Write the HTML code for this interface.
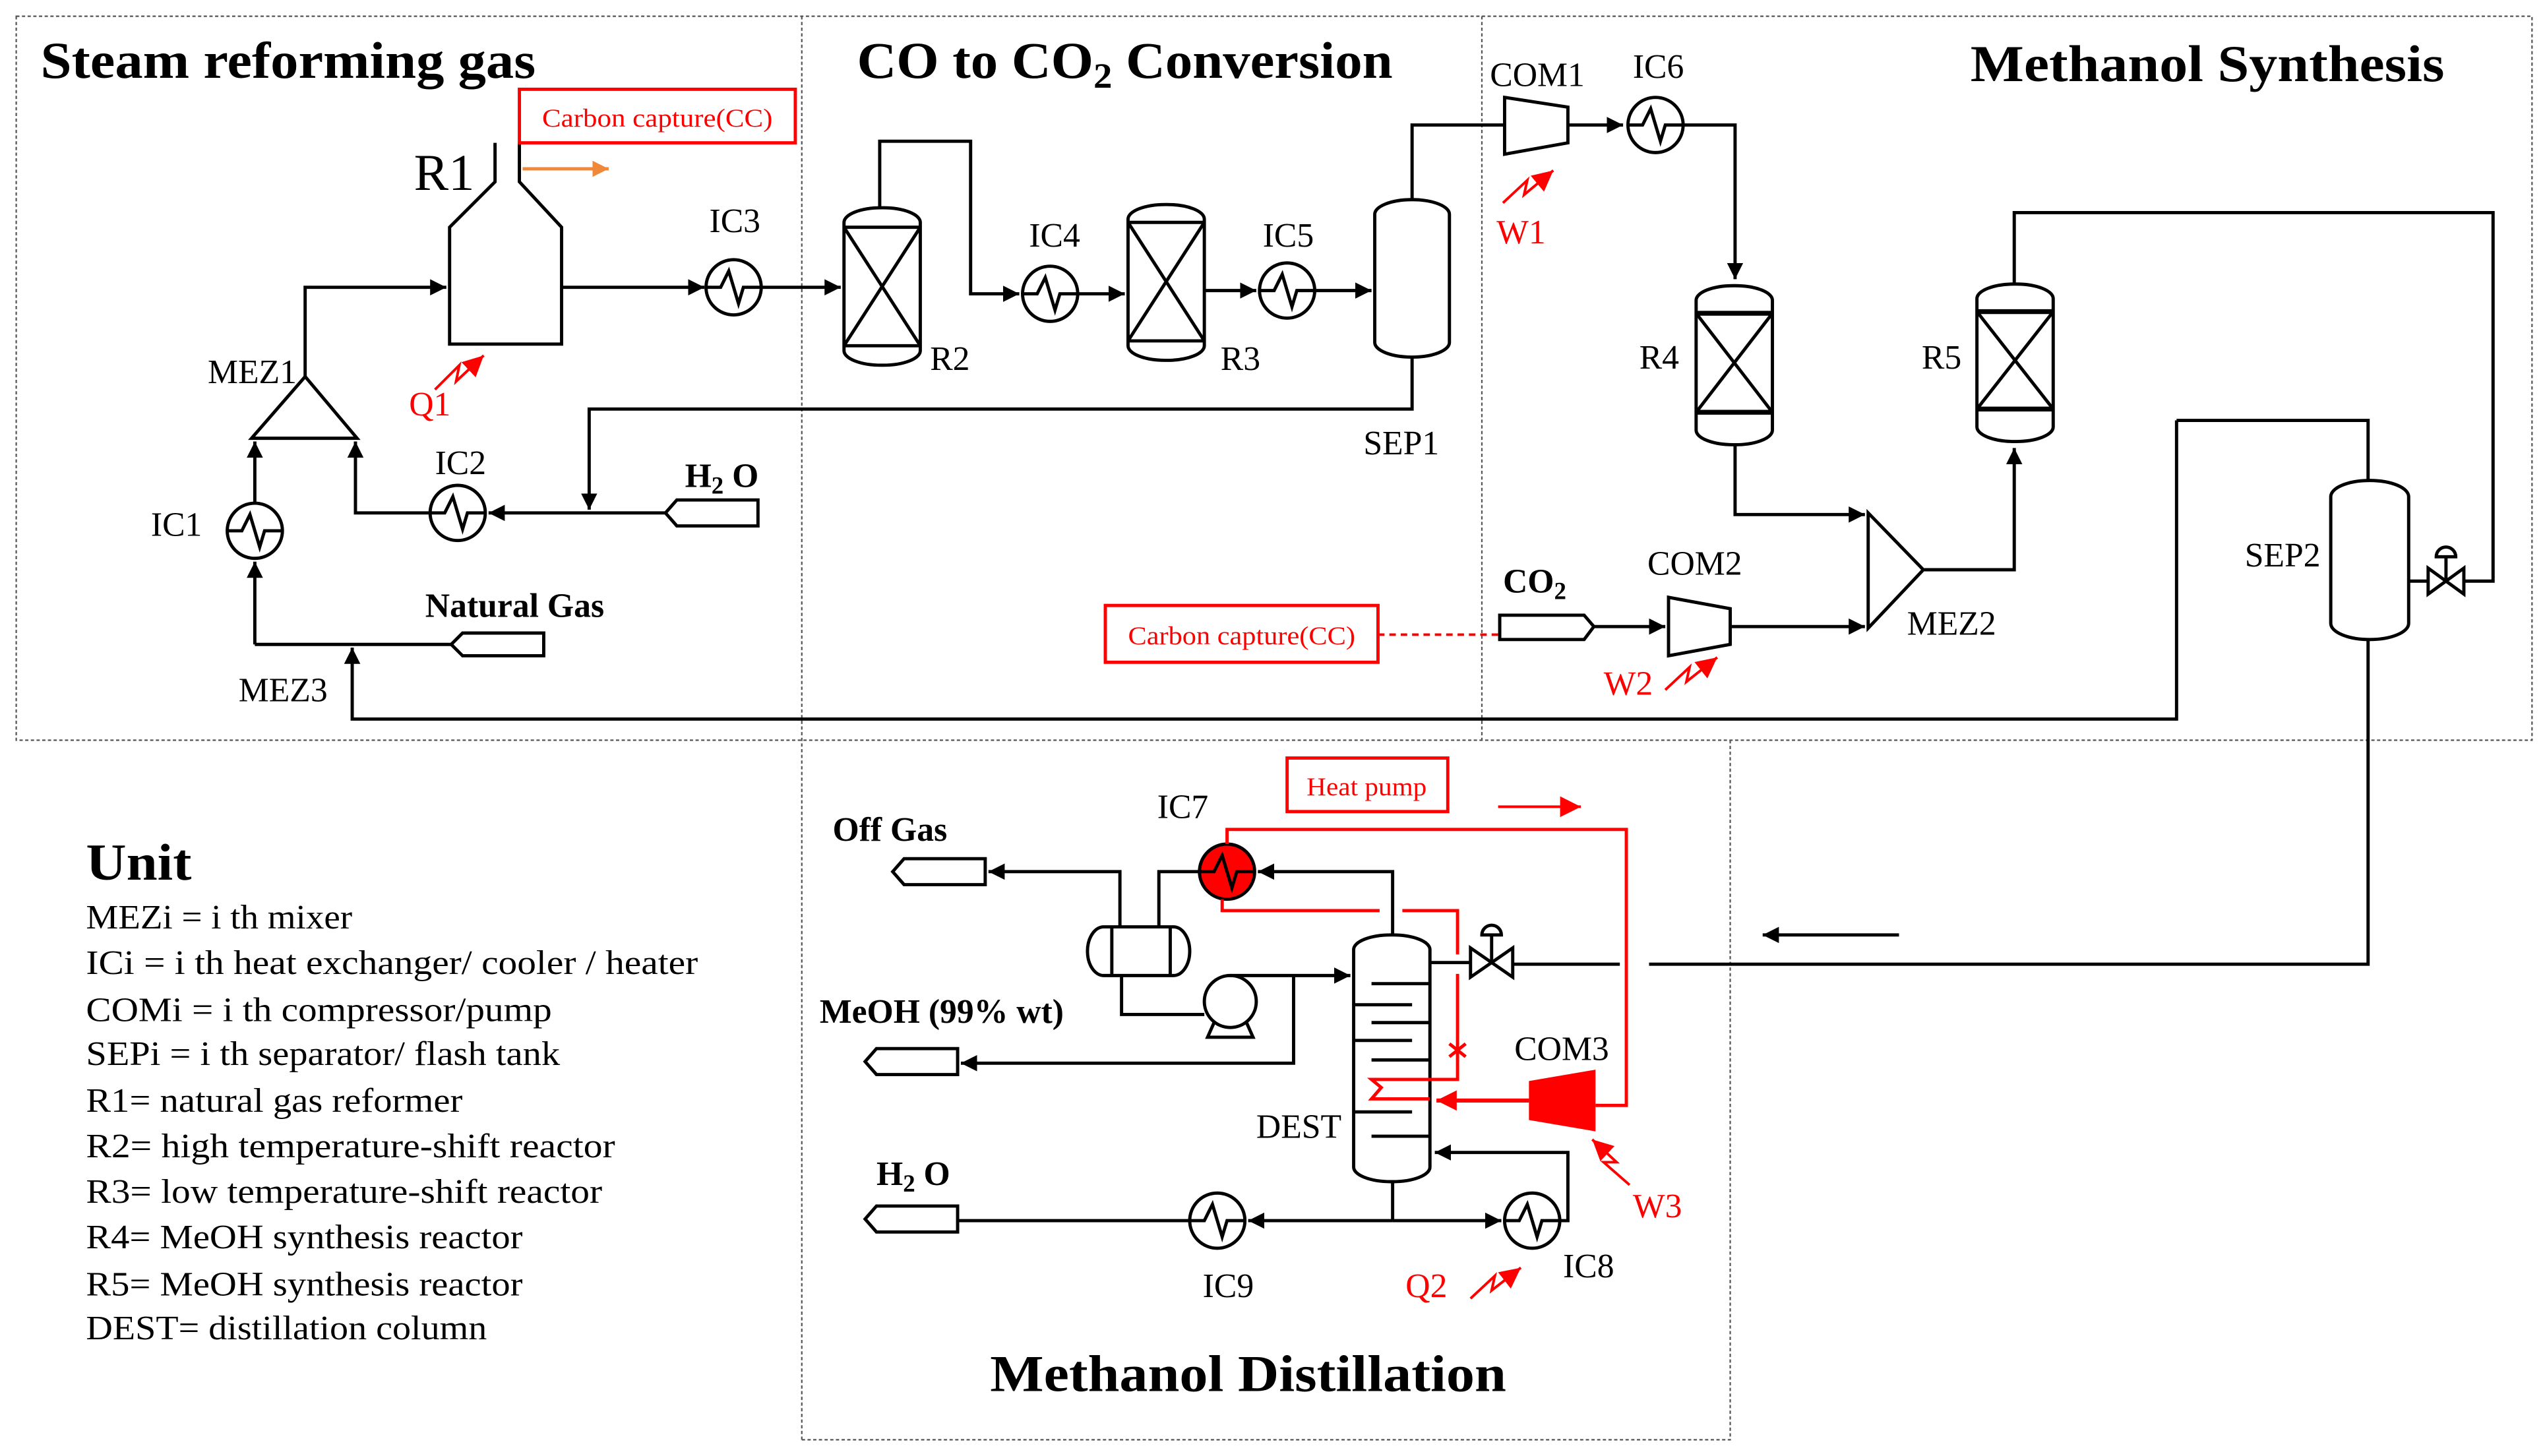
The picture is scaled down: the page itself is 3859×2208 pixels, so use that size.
<!DOCTYPE html>
<html><head><meta charset="utf-8"><style>
html,body{margin:0;padding:0;background:#fff;}
svg{display:block;}
text{font-family:"Liberation Serif",serif;}
</style></head><body>
<svg width="3859" height="2208" viewBox="0 0 1568 897" preserveAspectRatio="none" xmlns="http://www.w3.org/2000/svg">
<defs>
<marker id="a" viewBox="0 0 10 10" refX="10" refY="5" markerWidth="5" markerHeight="5" orient="auto" markerUnits="strokeWidth"><path d="M0,0 L10,5 L0,10 z" fill="#000"/></marker>
<marker id="r" viewBox="0 0 10 10" refX="10" refY="5" markerWidth="5" markerHeight="5" orient="auto" markerUnits="strokeWidth"><path d="M0,0 L10,5 L0,10 z" fill="#f00"/></marker>
<marker id="rs" viewBox="0 0 10 10" refX="10" refY="5" markerWidth="8" markerHeight="8" orient="auto" markerUnits="strokeWidth"><path d="M0,0 L10,5 L0,10 z" fill="#f00"/></marker>
<marker id="o" viewBox="0 0 10 10" refX="10" refY="5" markerWidth="5" markerHeight="5" orient="auto" markerUnits="strokeWidth"><path d="M0,0 L10,5 L0,10 z" fill="#f0883a"/></marker>
</defs>
<rect width="1568" height="897" fill="#fff"/>
<!-- section boxes -->
<g fill="none" stroke="#555" stroke-width="0.9" stroke-dasharray="2,1.5">
<rect x="10" y="10" width="1550" height="446"/>
<line x1="494" y1="10" x2="494" y2="887"/>
<line x1="913" y1="10" x2="913" y2="456"/>
<path d="M494,887 H1066 V456"/>
</g>
<!-- titles -->
<g font-weight="bold" font-size="32" fill="#000">
<text x="25" y="48" textLength="305" lengthAdjust="spacingAndGlyphs">Steam reforming  gas</text>
<text x="528" y="48" textLength="330" lengthAdjust="spacingAndGlyphs">CO to CO<tspan font-size="22" dy="6">2</tspan><tspan dy="-6"> Conversion</tspan></text>
<text x="1214" y="50" textLength="292" lengthAdjust="spacingAndGlyphs">Methanol Synthesis</text>
<text x="610" y="857" textLength="318" lengthAdjust="spacingAndGlyphs">Methanol Distillation</text>
<text x="53" y="542" textLength="65" lengthAdjust="spacingAndGlyphs">Unit</text>
</g>
<!-- legend -->
<g font-size="21" fill="#000">
<text x="53" y="572" textLength="164" lengthAdjust="spacingAndGlyphs">MEZi = i th mixer</text>
<text x="53" y="600" textLength="377" lengthAdjust="spacingAndGlyphs">ICi =  i th heat exchanger/ cooler / heater</text>
<text x="53" y="629" textLength="287" lengthAdjust="spacingAndGlyphs">COMi = i th compressor/pump</text>
<text x="53" y="656" textLength="292" lengthAdjust="spacingAndGlyphs">SEPi = i th separator/ flash tank</text>
<text x="53" y="685" textLength="232" lengthAdjust="spacingAndGlyphs">R1= natural gas reformer</text>
<text x="53" y="713" textLength="326" lengthAdjust="spacingAndGlyphs">R2= high temperature-shift  reactor</text>
<text x="53" y="741" textLength="318" lengthAdjust="spacingAndGlyphs">R3= low temperature-shift  reactor</text>
<text x="53" y="769" textLength="269" lengthAdjust="spacingAndGlyphs">R4= MeOH synthesis reactor</text>
<text x="53" y="798" textLength="269" lengthAdjust="spacingAndGlyphs">R5= MeOH synthesis reactor</text>
<text x="53" y="825" textLength="247" lengthAdjust="spacingAndGlyphs">DEST= distillation column</text>
</g>

<!-- black process lines -->
<g fill="none" stroke="#000" stroke-width="2">
<!-- R1 -->
<path d="M305,88 V112 L277,140 V212 H346 V140 L320,112 V88"/>
<!-- MEZ1 -->
<path d="M188,232 L155,270 H220 Z"/>
<path d="M188,232 V177 H275" marker-end="url(#a)"/>
<path d="M346,177 H434" marker-end="url(#a)"/>
<path d="M469,177 H518" marker-end="url(#a)"/>
<path d="M157,310 V272" marker-end="url(#a)"/>
<path d="M157,397 V346" marker-end="url(#a)"/>
<path d="M157,397 H278"/>
<path d="M1341,259 H1459 V296"/>
<path d="M1341,259 V443 H217 V399" marker-end="url(#a)"/>
<path d="M265,316 H219 V272" marker-end="url(#a)"/>
<path d="M410,316 H301" marker-end="url(#a)"/>
<path d="M870,220 V252 H363 V314" marker-end="url(#a)"/>
<!-- feeds -->
<path d="M278,397 L285,390 H335 V404 H285 Z"/>
<path d="M410,316 L417,308 H467 V324 H417 Z"/>
<!-- R2 -->
<rect x="520" y="128" width="47" height="97" rx="23" ry="9"/>
<path d="M520,140 H567 M520,213 H567 M520,140 L567,213 M567,140 L520,213"/>
<path d="M542,128 V87 H598 V181 H628" marker-end="url(#a)"/>
<path d="M664,181 H693" marker-end="url(#a)"/>
<rect x="695" y="126" width="47" height="96" rx="23" ry="9"/>
<path d="M695,137 H742 M695,210 H742 M695,137 L742,210 M742,137 L695,210"/>
<path d="M742,179 H774" marker-end="url(#a)"/>
<path d="M810,179 H845" marker-end="url(#a)"/>
<rect x="847" y="123" width="46" height="97" rx="23" ry="9"/>
<path d="M870,123 V77 H927"/>
<!-- synthesis -->
<path d="M927,60 L966,66 V88 L927,95 Z"/>
<path d="M966,77 H1000" marker-end="url(#a)"/>
<path d="M1037,77 H1069 V172" marker-end="url(#a)"/>
<rect x="1045" y="176" width="47" height="98" rx="23" ry="9"/>
<path d="M1045,193 H1092 M1045,254 H1092 M1045,193 L1092,254 M1092,193 L1045,254"/>
<path d="M1045,193 H1092 M1045,254 H1092" stroke-width="3"/>
<rect x="1218" y="175" width="47" height="97" rx="23" ry="9"/>
<path d="M1218,192 L1265,252 M1265,192 L1218,252"/>
<path d="M1218,192 H1265 M1218,252 H1265" stroke-width="3"/>
<path d="M1069,274 V317 H1149" marker-end="url(#a)"/>
<path d="M1151,316 V387 L1185,351 Z"/>
<path d="M1185,351 H1241 V276" marker-end="url(#a)"/>
<path d="M1241,175 V131 H1536 V358 H1518"/>
<path d="M1496,358 H1484"/>
<path d="M1496,350 V366 L1518,350 V366 Z"/>
<path d="M1507,358 V343"/>
<path d="M1501,343 A6,6 0 0 1 1513,343 Z"/>
<rect x="1436" y="296" width="48" height="98" rx="24" ry="10"/>
<path d="M1459,394 V594 H1016"/>
<path d="M998,594 H932"/>
<path d="M924,379 H976 L982,386 L976,394 H924 Z"/>
<path d="M982,386 H1026" marker-end="url(#a)"/>
<path d="M1028,368 L1066,375 V397 L1028,404 Z"/>
<path d="M1066,386 H1149" marker-end="url(#a)"/>
<path d="M1170,576 H1086" marker-end="url(#a)"/>
<!-- distillation -->
<path d="M550,537 L557,529 H607 V545 H557 Z"/>
<path d="M533,654 L540,646 H590 V662 H540 Z"/>
<path d="M533,751 L540,743 H590 V759 H540 Z"/>
<rect x="670" y="571" width="63" height="30" rx="10" ry="15"/>
<path d="M685,571 V601 M721,571 V601"/>
<path d="M690,571 V537 H609" marker-end="url(#a)"/>
<path d="M714,571 V537 H739"/>
<path d="M858,576 V537 H775" marker-end="url(#a)"/>
<path d="M691,601 V625 H742"/>
<circle cx="758" cy="617" r="16"/>
<path d="M748,630 L744,639 H772 L768,630"/>
<path d="M758,601 H832" marker-end="url(#a)"/>
<path d="M797,601 V655 H592" marker-end="url(#a)"/>
<rect x="834" y="576" width="47" height="152" rx="23" ry="9"/>
<path d="M845,606 H881 M834,619 H870 M845,630 H881 M834,641 H870 M845,653 H881 M834,685 H870 M845,700 H881"/>
<path d="M881,593 H906"/>
<path d="M906,584 V602 L932,584 V602 Z"/>
<path d="M919,593 V576"/>
<path d="M913,576 A6,6 0 0 1 925,576 Z"/>
<path d="M858,728 V752"/>
<path d="M858,752 H769" marker-end="url(#a)"/>
<path d="M858,752 H925" marker-end="url(#a)"/>
<path d="M733,752 H590"/>
<path d="M961,752 H966 V710 H884" marker-end="url(#a)"/>
</g>
<!-- heat exchangers -->
<g fill="#fff" stroke="#000" stroke-width="2">
<g transform="translate(452,177)"><circle r="17"/><path d="M-17,0 H-8 L-3,-10 L3,10 L6,0 H17" fill="none"/></g>
<g transform="translate(157,327)"><circle r="17"/><path d="M-17,0 H-8 L-3,-10 L3,10 L6,0 H17" fill="none"/></g>
<g transform="translate(282,316)"><circle r="17"/><path d="M-17,0 H-8 L-3,-10 L3,10 L6,0 H17" fill="none"/></g>
<g transform="translate(647,181)"><circle r="17"/><path d="M-17,0 H-8 L-3,-10 L3,10 L6,0 H17" fill="none"/></g>
<g transform="translate(793,179)"><circle r="17"/><path d="M-17,0 H-8 L-3,-10 L3,10 L6,0 H17" fill="none"/></g>
<g transform="translate(1020,77)"><circle r="17"/><path d="M-17,0 H-8 L-3,-10 L3,10 L6,0 H17" fill="none"/></g>
<g transform="translate(750,752)"><circle r="17"/><path d="M-17,0 H-8 L-3,-10 L3,10 L6,0 H17" fill="none"/></g>
<g transform="translate(944,752)"><circle r="17"/><path d="M-17,0 H-8 L-3,-10 L3,10 L6,0 H17" fill="none"/></g>
<g transform="translate(756,537)"><circle r="17" fill="#f00"/><path d="M-17,0 H-8 L-3,-10 L3,10 L6,0 H17" fill="none"/></g>
</g>
<!-- red items -->
<g fill="none" stroke="#f00" stroke-width="1.6">
<rect x="320" y="55" width="170" height="33" stroke-width="2"/>
<rect x="681" y="373" width="168" height="35" stroke-width="2"/>
<rect x="793" y="467" width="99" height="33" stroke-width="2"/>
<path d="M849,391 H923" stroke-dasharray="4,3"/>
<path d="M923,497 H974" marker-end="url(#rs)"/>
<path d="M756,520 V511 H1002 V681 H983" stroke-width="2"/>
<path d="M753,554 V561 H850 M864,561 H898 V588 M898,600 V665 H845 L851,670 L845,677 H881" stroke-width="2"/>
<path d="M893,643 L903,651 M903,643 L893,651" stroke-width="2"/>
<path d="M942,678 H885" stroke-width="2.5" marker-end="url(#r)"/>
<path d="M268,240 L283,225 L281,235 L298,219" marker-end="url(#rs)"/>
<path d="M926,125 L941,111 L939,120 L957,105" marker-end="url(#rs)"/>
<path d="M1026,425 L1041,411 L1039,420 L1058,405" marker-end="url(#rs)"/>
<path d="M906,800 L921,786 L919,795 L937,781" marker-end="url(#rs)"/>
<path d="M1004,730 L988,716 L996,716 L981,702" marker-end="url(#rs)"/>
</g>
<path d="M942,666 L983,659 V697 L942,690 Z" fill="#f00"/>
<path d="M322,104 H375" stroke="#f0883a" stroke-width="2" marker-end="url(#o)"/>
<g fill="#f00" font-size="16">
<text x="405" y="78" text-anchor="middle" textLength="142" lengthAdjust="spacingAndGlyphs">Carbon capture(CC)</text>
<text x="765" y="397" text-anchor="middle" textLength="140" lengthAdjust="spacingAndGlyphs">Carbon capture(CC)</text>
<text x="842" y="490" text-anchor="middle" textLength="74" lengthAdjust="spacingAndGlyphs">Heat pump</text>
</g>
<g fill="#f00" font-size="21">
<text x="252" y="256">Q1</text>
<text x="922" y="150">W1</text>
<text x="988" y="428">W2</text>
<text x="1006" y="750">W3</text>
<text x="866" y="799">Q2</text>
</g>
<!-- labels -->
<g fill="#000" font-size="21">
<text x="255" y="117" font-size="32">R1</text>
<text x="437" y="143">IC3</text>
<text x="128" y="236">MEZ1</text>
<text x="93" y="330">IC1</text>
<text x="268" y="292">IC2</text>
<text x="147" y="432">MEZ3</text>
<text x="573" y="228">R2</text>
<text x="634" y="152">IC4</text>
<text x="752" y="228">R3</text>
<text x="778" y="152">IC5</text>
<text x="840" y="280">SEP1</text>
<text x="918" y="53">COM1</text>
<text x="1006" y="48">IC6</text>
<text x="1010" y="227">R4</text>
<text x="1184" y="227">R5</text>
<text x="1383" y="349">SEP2</text>
<text x="1175" y="391">MEZ2</text>
<text x="1015" y="354">COM2</text>
<text x="713" y="504">IC7</text>
<text x="933" y="653">COM3</text>
<text x="774" y="701">DEST</text>
<text x="963" y="787">IC8</text>
<text x="741" y="799">IC9</text>
</g>
<g fill="#000" font-size="21" font-weight="bold">
<text x="262" y="380">Natural Gas</text>
<text x="422" y="300">H<tspan font-size="15" dy="4">2</tspan><tspan dy="-4"> O</tspan></text>
<text x="926" y="365">CO<tspan font-size="15" dy="4">2</tspan></text>
<text x="513" y="518">Off Gas</text>
<text x="505" y="630">MeOH (99% wt)</text>
<text x="540" y="730">H<tspan font-size="15" dy="4">2</tspan><tspan dy="-4"> O</tspan></text>
</g>
</svg>
</body></html>
